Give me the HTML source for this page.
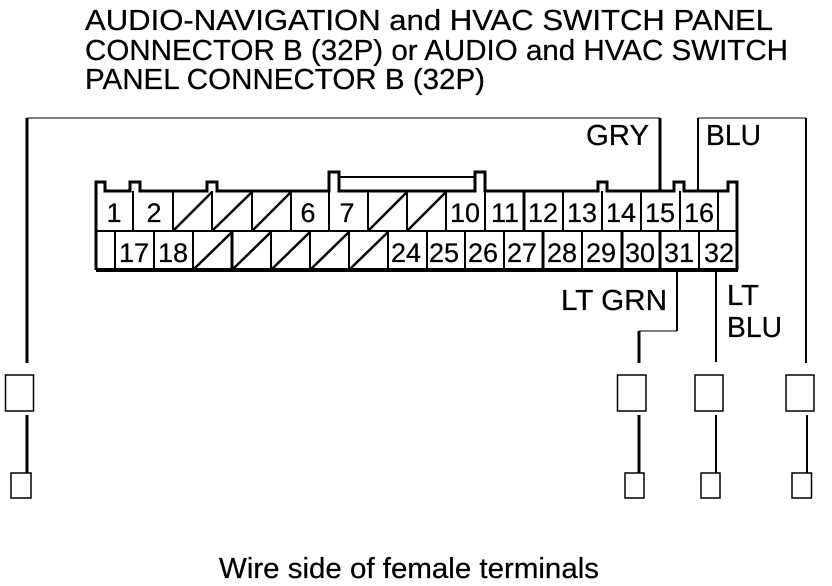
<!DOCTYPE html>
<html>
<head>
<meta charset="utf-8">
<style>
html,body{margin:0;padding:0;background:#fff;width:832px;height:586px;overflow:hidden}
svg{display:block}
text{font-family:"Liberation Sans",Arial,sans-serif;fill:#000;stroke:#000;stroke-width:.25px}
.t{font-size:29px}
.n{font-size:27px;text-anchor:middle}
</style>
</head>
<body>
<svg width="832" height="586" viewBox="0 0 832 586" xmlns="http://www.w3.org/2000/svg">
<rect width="832" height="586" fill="#fff"/>
<text class="t" x="85" y="30" textLength="688" lengthAdjust="spacingAndGlyphs">AUDIO-NAVIGATION and HVAC SWITCH PANEL</text>
<text class="t" x="85" y="60" textLength="703" lengthAdjust="spacingAndGlyphs">CONNECTOR B (32P) or AUDIO and HVAC SWITCH</text>
<text class="t" x="85" y="89" textLength="400" lengthAdjust="spacingAndGlyphs">PANEL CONNECTOR B (32P)</text>

<text class="t" x="586" y="145" textLength="63" lengthAdjust="spacingAndGlyphs">GRY</text>
<text class="t" x="706" y="145" textLength="55" lengthAdjust="spacingAndGlyphs">BLU</text>
<text class="t" x="561" y="310" textLength="106" lengthAdjust="spacingAndGlyphs">LT GRN</text>
<text class="t" x="727" y="305" textLength="32" lengthAdjust="spacingAndGlyphs">LT</text>
<text class="t" x="727" y="337" textLength="55" lengthAdjust="spacingAndGlyphs">BLU</text>
<text class="t" x="219" y="578" textLength="380" lengthAdjust="spacingAndGlyphs">Wire side of female terminals</text>

<g shape-rendering="crispEdges" fill="none" stroke="#000">
  <!-- wires -->
  <path stroke-width="1" d="M27 118H660M698 118H806"/>
  <path stroke-width="2" d="M698 191V118M806 118V363M677 270V331M716 270V362"/>
  <path stroke-width="1" d="M677 331H639"/>
  <path stroke-width="3" d="M660 118V191M27 118V363M639 331V363"/>

  <!-- connector outline -->
  <path stroke-width="3" d="M96 270V182H105V191H130V182H140V191H207V182H217V191H329V172H339V191H475V172H485V191H598V182H607V191H674V182H684V191H728V182H737V270"/>
  <path stroke-width="2" d="M339 177H475"/>
  <path stroke-width="2" d="M96 231H737"/>
  <path stroke-width="4" d="M96 270H738"/>
  <!-- top row dividers -->
  <path stroke-width="2" d="M133 191V231M173 191V231M212 191V231M252 191V231M291 191V231M329 191V231M368 191V231M407 191V231M446 191V231M485 191V231M563 191V231M602 191V231M641 191V231M680 191V231M718 191V231"/>
  <path stroke-width="3" d="M524 191V231"/>
  <!-- bottom row dividers -->
  <path stroke-width="2" d="M115 231V270M154 231V270M193 231V270M271 231V270M310 231V270M349 231V270M388 231V270M427 231V270M465 231V270M504 231V270M582 231V270M699 231V270"/>
  <path stroke-width="3" d="M232 231V270M543 231V270M622 231V270M660 231V270"/>
  <path stroke-width="3" d="M27 415V473M639 415V473"/>
  <path stroke-width="2" d="M716 415V473M807 415V473"/>
</g>
<!-- terminals -->
<g fill="none" stroke="#000" stroke-width="1.5">
  <path d="M5.5 375H33.5V411H5.5ZM617.5 375H646V411H617.5ZM695 375H723V411H695ZM786 375H814V411H786Z"/>
  <path d="M11 473H31V498H11ZM625 473H644V498H625ZM701 473H720V498H701ZM792 473H811.5V498H792Z"/>
</g>
<!-- diagonals -->
<g fill="none" stroke="#000" stroke-width="2.5">
  <path d="M174 230L212 192M213 230L252 192M253 230L291 192M369 230L407 192M408 230L446 192"/>
  <path d="M194 269L232 232M233 269L271 232M272 269L310 232M311 269L349 232M350 269L388 232"/>
</g>

<text class="n" x="114" y="222">1</text>
<text class="n" x="154" y="222">2</text>
<text class="n" x="308" y="222">6</text>
<text class="n" x="347" y="222">7</text>
<text class="n" x="465" y="222">10</text>
<text class="n" x="505" y="222">11</text>
<text class="n" x="543" y="222">12</text>
<text class="n" x="582" y="222">13</text>
<text class="n" x="621" y="222">14</text>
<text class="n" x="660" y="222">15</text>
<text class="n" x="699" y="222">16</text>
<text class="n" x="134" y="262">17</text>
<text class="n" x="173" y="262">18</text>
<text class="n" x="406" y="262">24</text>
<text class="n" x="444" y="262">25</text>
<text class="n" x="483" y="262">26</text>
<text class="n" x="522" y="262">27</text>
<text class="n" x="562" y="262">28</text>
<text class="n" x="601" y="262">29</text>
<text class="n" x="640" y="262">30</text>
<text class="n" x="679" y="262">31</text>
<text class="n" x="719" y="262">32</text>
</svg>
</body>
</html>
